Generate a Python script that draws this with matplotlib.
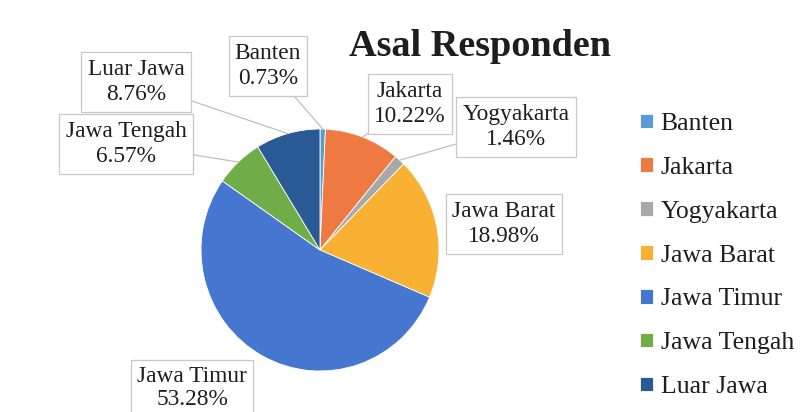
import matplotlib
matplotlib.use("Agg")
import matplotlib.pyplot as plt
import numpy as np

# Survey respondents by region of origin
regions = ["Banten", "Jakarta", "Yogyakarta", "Jawa Barat", "Jawa Timur", "Jawa Tengah", "Luar Jawa"]
shares = [0.73, 10.22, 1.46, 18.98, 53.28, 6.57, 8.76]
colors = ["#5B9BD5", "#EE7A42", "#A8A8A8", "#F8B133", "#4677D0", "#70AD47", "#2A5A95"]

# label box centres in figure pixels (from top-left), leader line flag, line spacing
label_pos = {
    "Banten": (268, 66, True, 1.3),
    "Jakarta": (410, 104, True, 1.3),
    "Yogyakarta": (516, 127, True, 1.3),
    "Jawa Barat": (504, 224, False, 1.3),
    "Jawa Timur": (192, 388, False, 1.1),
    "Jawa Tengah": (126, 144, True, 1.3),
    "Luar Jawa": (136, 82, True, 1.3),
}

W, H = 809, 412
plt.rcParams["font.family"] = ["Liberation Serif", "DejaVu Serif"]
txt_color = "#1e1e1e"

fig = plt.figure(figsize=(W / 100, H / 100), dpi=100)
fig.patch.set_facecolor("white")


def frac(x, y):
    return x / W, 1 - y / H


# pie axes occupying the pixel box of the pie
cx, cy, rx, ry = 320, 250, 119, 121
ax = fig.add_axes([(cx - rx) / W, (H - cy - ry) / H, 2 * rx / W, 2 * ry / H])
wedges, _ = ax.pie(shares, colors=colors, startangle=90, counterclock=False,
                   radius=1.0, wedgeprops=dict(edgecolor="white", linewidth=0.6))
ax.set_aspect("auto")
ax.set_xlim(-1, 1)
ax.set_ylim(-1, 1)
ax.axis("off")

# data labels
total = sum(shares)
cum = 0.0
for name, val in zip(regions, shares):
    mid = 90 - (cum + val / 2) / total * 360
    cum += val
    px, py, leader, lsp = label_pos[name]
    edge = (np.cos(np.radians(mid)), np.sin(np.radians(mid)))
    ax.annotate(f"{name}\n{val:.2f}%", xy=edge, xycoords="data",
                xytext=frac(px, py), textcoords="figure fraction",
                ha="center", va="center", fontsize=16.8, color=txt_color,
                linespacing=lsp,
                bbox=dict(boxstyle="square,pad=0.27", fc="white", ec="#c8c8c8", lw=0.9),
                arrowprops=(dict(arrowstyle="-", color="#c0c0c0", lw=0.9,
                                 shrinkA=0, shrinkB=0) if leader else None),
                annotation_clip=False)

# title
fig.text(*frac(480, 46), "Asal Responden", ha="center", va="center",
         fontsize=27.5, fontweight="bold", color=txt_color)

# legend
fig.legend(wedges, regions, loc="upper left", bbox_to_anchor=frac(640, 113),
           frameon=False, fontsize=18.5, handlelength=0.5, handleheight=0.5,
           handletextpad=0.3, labelspacing=0.85, borderaxespad=0, borderpad=0,
           labelcolor=txt_color)

fig.savefig("out.png", dpi=100, facecolor="white")
